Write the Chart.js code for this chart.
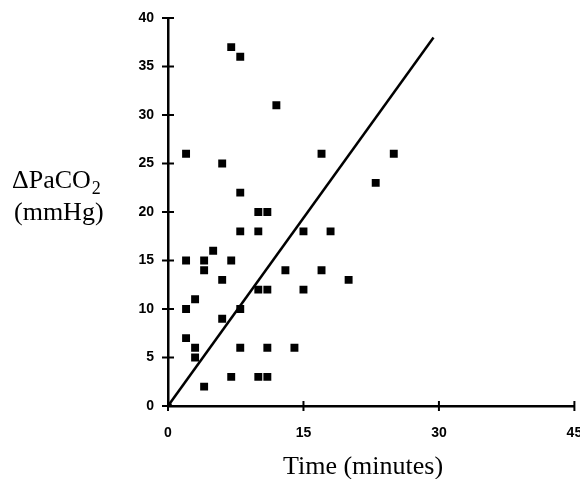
<!DOCTYPE html>
<html>
<head>
<meta charset="utf-8">
<script src="https://cdn.jsdelivr.net/npm/chart.js@4/dist/chart.umd.min.js"></script>
<style>
  html, body { margin: 0; padding: 0; background: #fff; }
  #wrap { width: 580px; height: 479px; position: relative; }
</style>
</head>
<body>
<div id="wrap"><canvas id="paco2Chart"></canvas></div>
<script>
// data
const timeMin = [7, 8, 12, 2, 6, 17, 25, 23, 8, 10, 11, 8, 10, 15, 18, 2, 4, 5, 7, 4, 13, 17, 6, 20, 10, 11, 15, 3, 2, 8, 6, 2, 3, 8, 11, 14, 3, 7, 10, 11, 4];
const deltaPaco2 = [37, 36, 31, 26, 25, 26, 26, 23, 22, 20, 20, 18, 18, 18, 18, 15, 15, 16, 15, 14, 14, 14, 13, 13, 12, 12, 12, 11, 10, 10, 9, 7, 6, 6, 6, 6, 5, 3, 3, 3, 2];
const lineX = [0, 29.4];
const lineY = [0, 38];
const xTicks = [0, 15, 30, 45];
const yTicks = [0, 5, 10, 15, 20, 25, 30, 35, 40];

const points = timeMin.map((t, i) => ({ x: t, y: deltaPaco2[i] }));
const linePts = lineX.map((t, i) => ({ x: t, y: lineY[i] }));

// crossing tick marks + axis titles (subscript needs manual drawing)
const extrasPlugin = {
    id: 'extras',
    afterDraw(chart) {
        const ctx = chart.ctx;
        const xs = chart.scales.x, ys = chart.scales.y;
        const area = chart.chartArea;
        ctx.save();
        ctx.strokeStyle = '#000';
        ctx.lineWidth = 2;
        xTicks.forEach(v => {
            const px = xs.getPixelForValue(v);
            ctx.beginPath();
            ctx.moveTo(px, area.bottom - 5);
            ctx.lineTo(px, area.bottom + 5);
            ctx.stroke();
        });
        yTicks.forEach(v => {
            const py = ys.getPixelForValue(v);
            ctx.beginPath();
            ctx.moveTo(area.left - 6, py);
            ctx.lineTo(area.left + 6, py);
            ctx.stroke();
        });

        ctx.fillStyle = '#000';
        ctx.textBaseline = 'alphabetic';
        ctx.textAlign = 'left';
        ctx.font = '26px "Liberation Serif", "Times New Roman", serif';
        ctx.fillText('ΔPaCO', 12, 188);
        const w = ctx.measureText('ΔPaCO').width;
        ctx.font = '18px "Liberation Serif", "Times New Roman", serif';
        ctx.fillText('2', 12 + w + 1, 194);
        ctx.font = '26px "Liberation Serif", "Times New Roman", serif';
        ctx.fillText('(mmHg)', 14, 220);
        ctx.fillText('Time (minutes)', 283, 474);
        ctx.restore();
    }
};

const ctx = document.getElementById('paco2Chart').getContext('2d');
const paco2Chart = new Chart(ctx, {
    type: 'scatter',
    data: {
        datasets: [{
            label: 'ΔPaCO2',
            data: points,
            pointStyle: 'rect',
            pointRadius: 5.6,
            backgroundColor: '#000',
            borderColor: '#000',
            borderWidth: 0,
        }, {
            label: 'fit',
            type: 'line',
            data: linePts,
            borderColor: '#000',
            borderWidth: 2.5,
            pointRadius: [4, 0],
            pointBackgroundColor: '#000',
            pointBorderWidth: 0,
            fill: false,
        }]
    },
    options: {
        responsive: true,
        maintainAspectRatio: false,
        animation: false,
        layout: { padding: { top: 18, right: 5, left: 0, bottom: 0 } },
        plugins: {
            legend: { display: false },
            tooltip: { enabled: false }
        },
        scales: {
            x: {
                type: 'linear',
                min: 0,
                max: 45,
                afterBuildTicks: s => { s.ticks = xTicks.map(v => ({ value: v })); },
                afterFit: s => { s.height = 73; s.paddingRight = 0; s.paddingLeft = 0; },
                grid: { display: true, drawOnChartArea: false, drawTicks: false },
                border: { color: '#000', width: 2.5 },
                ticks: {
                    color: '#000',
                    padding: 19,
                    maxRotation: 0,
                    font: { family: '"Liberation Sans", Arial, sans-serif', size: 14, weight: 'bold' }
                }
            },
            y: {
                type: 'linear',
                min: 0,
                max: 40,
                afterBuildTicks: s => { s.ticks = yTicks.map(v => ({ value: v })); },
                afterFit: s => { s.width = 168; s.paddingTop = 0; s.paddingBottom = 0; },
                grid: { display: true, drawOnChartArea: false, drawTicks: false },
                border: { color: '#000', width: 2.5 },
                ticks: {
                    color: '#000',
                    padding: 14,
                    font: { family: '"Liberation Sans", Arial, sans-serif', size: 14, weight: 'bold' }
                }
            }
        }
    },
    plugins: [extrasPlugin]
});
</script>
</body>
</html>
